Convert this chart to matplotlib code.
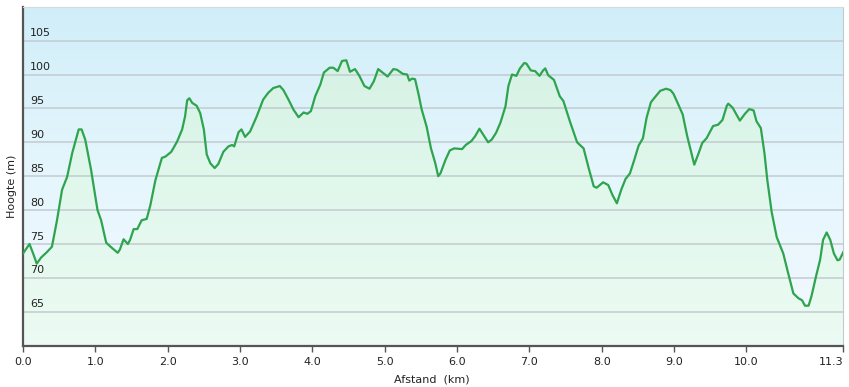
import matplotlib.pyplot as plt
import matplotlib.colors as mcolors
import numpy as np

# Hoogteprofiel: afstand (km) en hoogte (m)
afstand = [0.00, 0.09, 0.14, 0.19, 0.25, 0.33, 0.40, 0.47, 0.54, 0.61, 0.68, 0.77, 0.81, 0.86, 0.94,
           1.03, 1.08, 1.15, 1.21, 1.31, 1.34, 1.39, 1.45, 1.48, 1.53, 1.58, 1.64, 1.71, 1.76, 1.83,
           1.92, 1.97, 2.05, 2.13, 2.20, 2.24, 2.27, 2.30, 2.34, 2.40, 2.45, 2.50, 2.54, 2.59, 2.65,
           2.70, 2.77, 2.84, 2.89, 2.92, 2.98, 3.02, 3.07, 3.14, 3.23, 3.32, 3.39, 3.46, 3.55, 3.60,
           3.67, 3.74, 3.81, 3.88, 3.93, 3.98, 4.04, 4.11, 4.16, 4.24, 4.29, 4.35, 4.41, 4.47, 4.52,
           4.59, 4.65, 4.72, 4.79, 4.85, 4.91, 4.97, 5.04, 5.12, 5.17, 5.25, 5.31, 5.34, 5.38, 5.42,
           5.47, 5.51, 5.58, 5.64, 5.70, 5.74, 5.77, 5.84, 5.90, 5.96, 6.07, 6.12, 6.20, 6.25, 6.31,
           6.37, 6.43, 6.48, 6.54, 6.60, 6.67, 6.71, 6.76, 6.82, 6.87, 6.93, 6.96, 7.02, 7.08, 7.14,
           7.19, 7.22, 7.26, 7.34, 7.42, 7.47, 7.56, 7.66, 7.75, 7.82, 7.89, 7.93, 8.02, 8.09, 8.15,
           8.21, 8.27, 8.33, 8.39, 8.45, 8.51, 8.57, 8.62, 8.68, 8.74, 8.81, 8.89, 8.95, 8.99, 9.05,
           9.12, 9.18, 9.24, 9.28, 9.34, 9.39, 9.45, 9.50, 9.54, 9.61, 9.67, 9.73, 9.75, 9.81, 9.91,
           9.98, 10.04, 10.10, 10.14, 10.20, 10.25, 10.29, 10.35, 10.42, 10.51, 10.58, 10.65, 10.72,
           10.77, 10.81, 10.86, 10.90, 10.96, 11.02, 11.06, 11.11, 11.16, 11.21, 11.26, 11.29, 11.34]
hoogte = [73.6, 75.0, 73.6, 72.1, 73.0, 73.8, 74.6, 78.5, 83.0, 84.9, 88.4, 91.9, 91.9, 90.4, 86.0,
          80.0, 78.5, 75.2, 74.6, 73.7, 74.2, 75.7, 75.0, 75.6, 77.2, 77.2, 78.5, 78.7, 80.7, 84.4,
          87.7, 87.9, 88.6, 90.1, 91.9, 93.8, 96.2, 96.5, 95.8, 95.4, 94.3, 91.9, 88.2, 86.9, 86.2,
          86.8, 88.6, 89.4, 89.6, 89.4, 91.5, 91.9, 90.8, 91.6, 93.8, 96.3, 97.3, 98.0, 98.3, 97.7,
          96.3, 94.8, 93.7, 94.4, 94.2, 94.6, 96.8, 98.5, 100.3, 101.0, 101.0, 100.5, 102.0, 102.1, 100.4,
          100.8, 99.8, 98.3, 97.9, 99.0, 100.8, 100.3, 99.7, 100.8, 100.7, 100.1, 100.0, 99.1, 99.4, 99.3,
          97.0, 94.9, 92.3, 89.1, 86.9, 85.0, 85.4, 87.4, 88.8, 89.1, 89.0, 89.6, 90.2, 90.9, 92.0,
          91.0, 90.0, 90.4, 91.4, 92.9, 95.3, 98.3, 100.0, 99.8, 100.9, 101.7, 101.6, 100.6, 100.5, 99.8,
          100.6, 100.9, 99.9, 99.2, 96.8, 96.1, 93.1, 90.0, 89.1, 86.2, 83.5, 83.3, 84.1, 83.7, 82.2,
          81.0, 83.0, 84.6, 85.4, 87.4, 89.5, 90.6, 93.6, 95.9, 96.7, 97.6, 97.9, 97.7, 97.2, 95.8,
          94.1, 91.0, 88.4, 86.7, 88.4, 89.9, 90.6, 91.6, 92.4, 92.6, 93.3, 95.4, 95.7, 95.1, 93.2,
          94.2, 94.9, 94.7, 93.1, 92.1, 88.4, 84.4, 79.7, 76.0, 73.6, 70.6, 67.7, 67.0,
          66.7, 65.9, 65.9, 67.3, 70.1, 72.7, 75.6, 76.7, 75.6, 73.6, 72.6, 72.7, 73.8]

x_ticks = [0, 1, 2, 3, 4, 5, 6, 7, 8, 9, 10, 11.34]
x_labels = ['0.0', '1.0', '2.0', '3.0', '4.0', '5.0', '6.0', '7.0', '8.0', '9.0', '10.0', '11.3']
y_ticks = [65, 70, 75, 80, 85, 90, 95, 100, 105]

fig = plt.figure(figsize=(8.49, 3.87), dpi=100)
ax = fig.add_axes([23 / 849, 41.3 / 387, 820.3 / 849, 339 / 387])

xmin, xmax = 0, 11.34
ymin, ymax = 60, 110
ax.set_xlim(xmin, xmax)
ax.set_ylim(ymin, ymax)

# achtergrond: verloop van lichtblauw (boven) naar bijna wit (onder)
bg = mcolors.LinearSegmentedColormap.from_list('bg', ['#f2f9fe', '#e6f6fd', '#d0eef9'])
grad = np.linspace(0, 1, 256).reshape(-1, 1)
ax.imshow(grad, extent=[xmin, xmax, ymin, ymax], origin='lower', aspect='auto',
          cmap=bg, zorder=0, interpolation='bilinear')

# gevuld gebied onder de lijn met groen verloop
poly = ax.fill_between(afstand, hoogte, ymin, facecolor='none', edgecolor='none', zorder=1)
fill_cmap = mcolors.LinearSegmentedColormap.from_list('fill', ['#ecfbf3', '#e0f7ec', '#d2f0e2'])
im = ax.imshow(grad, extent=[xmin, xmax, ymin, ymax], origin='lower', aspect='auto',
               cmap=fill_cmap, zorder=1, interpolation='bilinear')
im.set_clip_path(poly.get_paths()[0], transform=ax.transData)

for yt in y_ticks:
    ax.axhline(yt, color='#c2cbcf', linewidth=1.1, zorder=2)
    ax.annotate(str(yt), xy=(0, yt), xycoords=('axes fraction', 'data'),
                xytext=(7, 2.5), textcoords='offset pixels',
                ha='left', va='bottom', fontsize=8, color='#222222', zorder=4)

ax.plot(afstand, hoogte, color='#2ea44f', linewidth=1.6, zorder=3, solid_joinstyle='round')

ax.set_yticks([])
ax.set_xticks(x_ticks)
ax.set_xticklabels(x_labels, fontsize=8, color='#222222')
ax.get_xticklabels()[-1].set_horizontalalignment('right')
ax.tick_params(axis='x', length=4, width=1, color='#555555', pad=4)

ax.spines['left'].set_color('#555555')
ax.spines['left'].set_linewidth(1.6)
ax.spines['bottom'].set_color('#555555')
ax.spines['bottom'].set_linewidth(1.6)
ax.spines['right'].set_color('#c3c9cc')
ax.spines['top'].set_color('#d6dadc')

fig.text(432 / 849, 1 - 379 / 387, 'Afstand  (km)', ha='center', va='center', fontsize=8, color='#222222')
fig.text(12 / 849, 1 - 186 / 387, 'Hoogte (m)', ha='center', va='center', rotation=90,
         fontsize=8, color='#222222')

fig.savefig('out.png', dpi=100)
